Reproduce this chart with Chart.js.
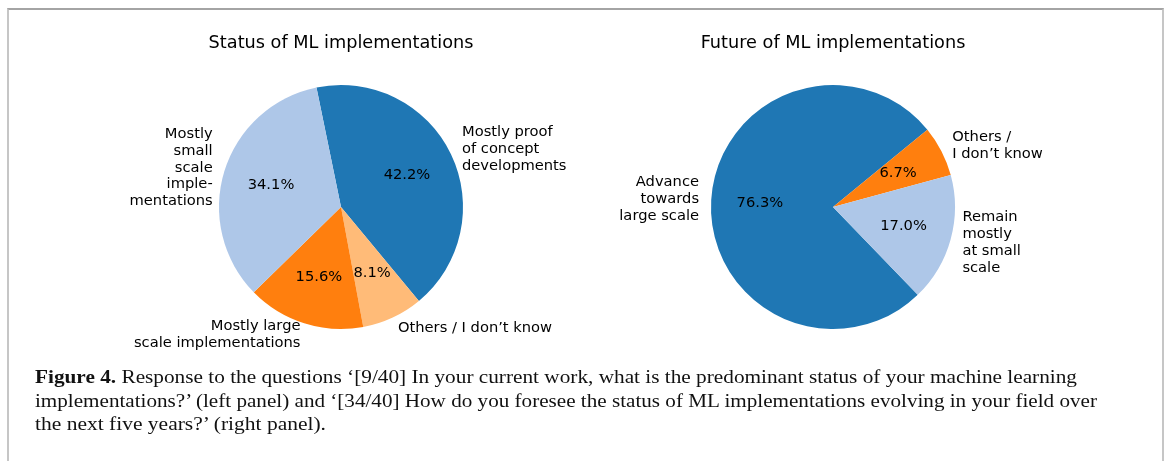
<!DOCTYPE html>
<html>
<head>
<meta charset="utf-8">
<script src="https://cdn.jsdelivr.net/npm/chart.js@4.4.0/dist/chart.umd.min.js"></script>
<style>
  html, body { margin: 0; padding: 0; background: #fff; }
  body { width: 1167px; height: 461px; position: relative; overflow: hidden; }
  #frame {
    position: absolute; left: 7px; top: 8px; width: 1153px; height: 470px;
    border-top: 2px solid #a4a4a4; border-left: 2px solid #c6c6c6; border-right: 2px solid #c6c6c6;
  }
  canvas { position: absolute; top: 0; }
  #chart1 { left: 0; }
  #chart2 { left: 583px; }
  #caption {
    position: absolute; left: 35px; top: 365px;
    font-family: "Liberation Serif", "DejaVu Serif", serif; font-size: 19.5px; line-height: 23.5px; color: #111;
  }
  #caption div { white-space: nowrap; transform-origin: left center; width: max-content; }
</style>
</head>
<body>
<div id="frame"></div>
<canvas id="chart1" width="583" height="461"></canvas>
<canvas id="chart2" width="584" height="461"></canvas>
<div id="caption">
  <div data-w="1042"><b>Figure 4.</b> Response to the questions ‘[9/40] In your current work, what is the predominant status of your machine learning</div>
  <div data-w="1062">implementations?’ (left panel) and ‘[34/40] How do you foresee the status of ML implementations evolving in your field over</div>
  <div data-w="291">the next five years?’ (right panel).</div>
</div>
<script>
// datos de los dos paneles
var statusLabels = ["Mostly proof\nof concept\ndevelopments", "Others / I don’t know", "Mostly large\nscale implementations", "Mostly\nsmall\nscale\nimple-\nmentations"];
var statusValues = [42.2, 8.1, 15.6, 34.1];
var statusColors = ["#1f77b4", "#ffbb78", "#ff7f0e", "#aec7e8"];

var futureLabels = ["Advance\ntowards\nlarge scale", "Others /\nI don’t know", "Remain\nmostly\nat small\nscale"];
var futureValues = [76.3, 6.7, 17.0];
var futureColors = ["#1f77b4", "#ff7f0e", "#aec7e8"];

var FONT = "DejaVu Sans";

// etiquetas fuera del pastel y porcentajes dentro, como en matplotlib
var pieLabels = {
  id: "pieLabels",
  afterDraw: function (chart) {
    var ctx = chart.ctx;
    var meta = chart.getDatasetMeta(0);
    var labels = chart.data.labels;
    var values = chart.data.datasets[0].data;
    ctx.save();
    ctx.fillStyle = "#000";
    ctx.font = "14.7px '" + FONT + "'";
    ctx.textBaseline = "middle";
    meta.data.forEach(function (arc, i) {
      var mid = (arc.startAngle + arc.endAngle) / 2;
      var r = arc.outerRadius;
      // porcentaje
      ctx.textAlign = "center";
      ctx.fillText(values[i].toFixed(1) + "%", arc.x + Math.cos(mid) * r * 0.6, arc.y + Math.sin(mid) * r * 0.6);
      // etiqueta
      var lx = arc.x + Math.cos(mid) * r * 1.1;
      var ly = arc.y + Math.sin(mid) * r * 1.1;
      var lines = labels[i].split("\n");
      var lh = 16.8;
      ctx.textAlign = Math.cos(mid) > 0 ? "left" : "right";
      lines.forEach(function (t, k) {
        ctx.fillText(t, lx, ly + (k - (lines.length - 1) / 2) * lh);
      });
    });
    ctx.restore();
  }
};

function crearPie(id, title, labels, values, colors, rotation, pad) {
  var ctx = document.getElementById(id).getContext("2d");
  return new Chart(ctx, {
    type: "pie",
    data: {
      labels: labels,
      datasets: [{
        data: values,
        backgroundColor: colors,
        borderWidth: 0,
        hoverOffset: 0,
        radius: 122
      }]
    },
    options: {
      responsive: false,
      animation: false,
      rotation: rotation,
      layout: { padding: pad },
      plugins: {
        legend: { display: false },
        tooltip: { enabled: false },
        title: {
          display: true,
          text: title,
          color: "#000",
          font: { family: FONT, size: 17.7, weight: "normal", lineHeight: 1.2 },
          padding: { top: 32.4, bottom: 31.4 }
        }
      }
    },
    plugins: [pieLabels]
  });
}

document.addEventListener("DOMContentLoaded", function () {
  crearPie("chart1", "Status of ML implementations", statusLabels, statusValues, statusColors, -11.6,
    { left: 195, right: 96, top: 0, bottom: 132 });
  crearPie("chart2", "Future of ML implementations", futureLabels, futureValues, futureColors, 136,
    { left: 104, right: 188, top: 0, bottom: 132 });

  // ajustar el ancho de cada línea del pie de figura
  document.querySelectorAll("#caption div").forEach(function (d) {
    var w = d.getBoundingClientRect().width;
    d.style.transform = "scaleX(" + (parseFloat(d.dataset.w) / w) + ")";
  });
});
</script>
</body>
</html>
